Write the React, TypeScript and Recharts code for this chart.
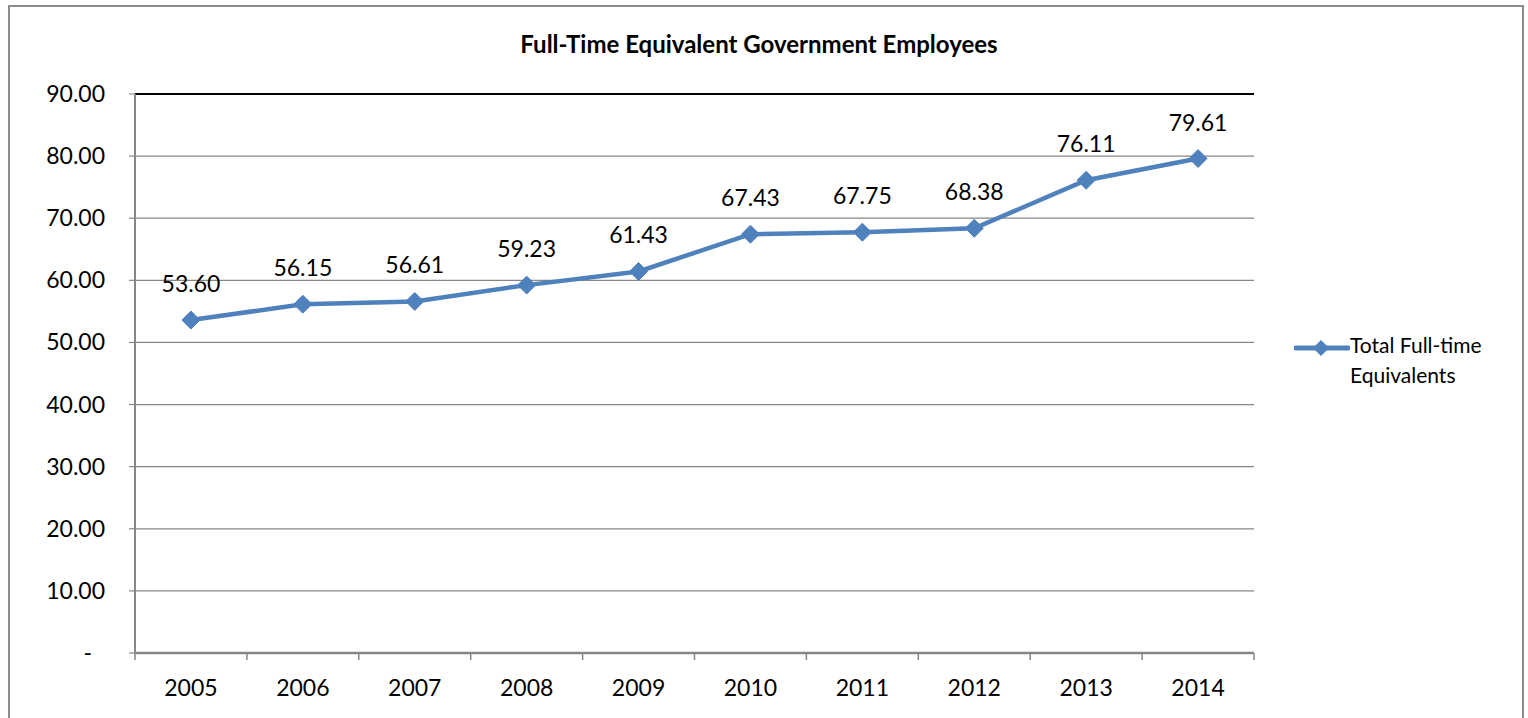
import React from "react";
import {
  LineChart,
  Line,
  XAxis,
  YAxis,
  CartesianGrid,
  Legend,
  LabelList,
  ReferenceLine,
} from "recharts";

const years = ["2005", "2006", "2007", "2008", "2009", "2010", "2011", "2012", "2013", "2014"];
const fteValues = [53.6, 56.15, 56.61, 59.23, 61.43, 67.43, 67.75, 68.38, 76.11, 79.61];
const yTicks = [0, 10, 20, 30, 40, 50, 60, 70, 80, 90];
const seriesName = "Total Full-time Equivalents";

const data = years.map((year, i) => ({ year, fte: fteValues[i] }));

const BLUE = "#4F81BD";
const GRID = "#868686";
const FONT = "Lato, 'Open Sans', sans-serif";

const Diamond = (props: any) => {
  const { cx, cy } = props;
  if (cx == null || cy == null) return null;
  const r = 9;
  return (
    <polygon
      points={`${cx},${cy - r} ${cx + r},${cy} ${cx},${cy + r} ${cx - r},${cy}`}
      fill={BLUE}
      stroke={BLUE}
    />
  );
};

const XTick = (props: any) => {
  const { x, y, payload } = props;
  const half = typeof payload.offset === "number" && payload.offset > 0 ? payload.offset : 56;
  const isLast = payload.value === years[years.length - 1];
  return (
    <g>
      <line x1={x - half} y1={y} x2={x - half} y2={y + 7} stroke={GRID} strokeWidth={1.5} />
      {isLast && <line x1={x + half} y1={y} x2={x + half} y2={y + 7} stroke={GRID} strokeWidth={1.5} />}
      <text x={x} y={y + 43} textAnchor="middle" fill="#000" fontSize={23} fontFamily={FONT}>
        {payload.value}
      </text>
    </g>
  );
};

const YTick = (props: any) => {
  const { x, y, payload } = props;
  const v = payload.value as number;
  const label = v === 0 ? "-" : v.toFixed(2);
  return (
    <text x={v === 0 ? x - 13 : x} y={y + 8} textAnchor="end" fill="#000" fontSize={23} fontFamily={FONT}>
      {label}
    </text>
  );
};

const LegendContent = () => (
  <div style={{ display: "flex", alignItems: "flex-start", fontFamily: FONT, fontSize: 21, color: "#000" }}>
    <svg width={56} height={20} style={{ marginTop: 6 }}>
      <line x1={2} y1={10} x2={54} y2={10} stroke={BLUE} strokeWidth={5} strokeLinecap="round" />
      <polygon points="27,2 35,10 27,18 19,10" fill={BLUE} />
    </svg>
    <div style={{ lineHeight: "30px", marginTop: -2, whiteSpace: "nowrap" }}>
      Total Full-time
      <br />
      Equivalents
    </div>
  </div>
);

export default function App() {
  return (
    <div
      style={{
        position: "absolute",
        left: 8,
        top: 5,
        width: 1516,
        height: 720,
        border: "2px solid #8c8c8c",
        boxSizing: "border-box",
        background: "#fff",
        fontFamily: FONT,
      }}
    >
      <div
        style={{
          position: "absolute",
          left: 0,
          width: 1498,
          top: 22,
          textAlign: "center",
          fontWeight: 700,
          fontSize: 24,
          color: "#000",
        }}
      >
        Full-Time Equivalent Government Employees
      </div>
      <LineChart
        width={1512}
        height={711}
        data={data}
        margin={{ top: 87, right: 268, bottom: 10, left: 0 }}
      >
        <CartesianGrid vertical={false} stroke={GRID} strokeWidth={1.2} />
        <XAxis
          dataKey="year"
          scale="band"
          height={55}
          tickLine={false}
          tickSize={0}
          tickMargin={0}
          axisLine={{ stroke: GRID, strokeWidth: 2.5 }}
          tick={<XTick />}
          interval={0}
        />
        <YAxis
          domain={[0, 90]}
          ticks={yTicks}
          width={125}
          interval={0}
          axisLine={{ stroke: GRID, strokeWidth: 2 }}
          tickLine={{ stroke: GRID, strokeWidth: 1.2 }}
          tickSize={6}
          tickMargin={24}
          tick={<YTick />}
        />
        <YAxis
          yAxisId="right"
          orientation="right"
          domain={[0, 90]}
          width={0}
          tick={false}
          tickLine={false}
          axisLine={{ stroke: "#000", strokeWidth: 2 }}
        />
        <ReferenceLine y={90} stroke="#000" strokeWidth={2} />
        <Legend
          layout="vertical"
          align="center"
          verticalAlign="middle"
          content={<LegendContent />}
          wrapperStyle={{ left: 1284, top: 325, right: "auto", bottom: "auto", width: 220 }}
        />
        <Line
          type="linear"
          dataKey="fte"
          name={seriesName}
          stroke={BLUE}
          strokeWidth={4.5}
          dot={<Diamond />}
          activeDot={false}
          isAnimationActive={false}
        >
          <LabelList
            dataKey="fte"
            position="top"
            offset={28}
            formatter={(v: any) => Number(v).toFixed(2)}
            fill="#000"
            fontSize={23}
            fontFamily={FONT}
          />
        </Line>
      </LineChart>
    </div>
  );
}
